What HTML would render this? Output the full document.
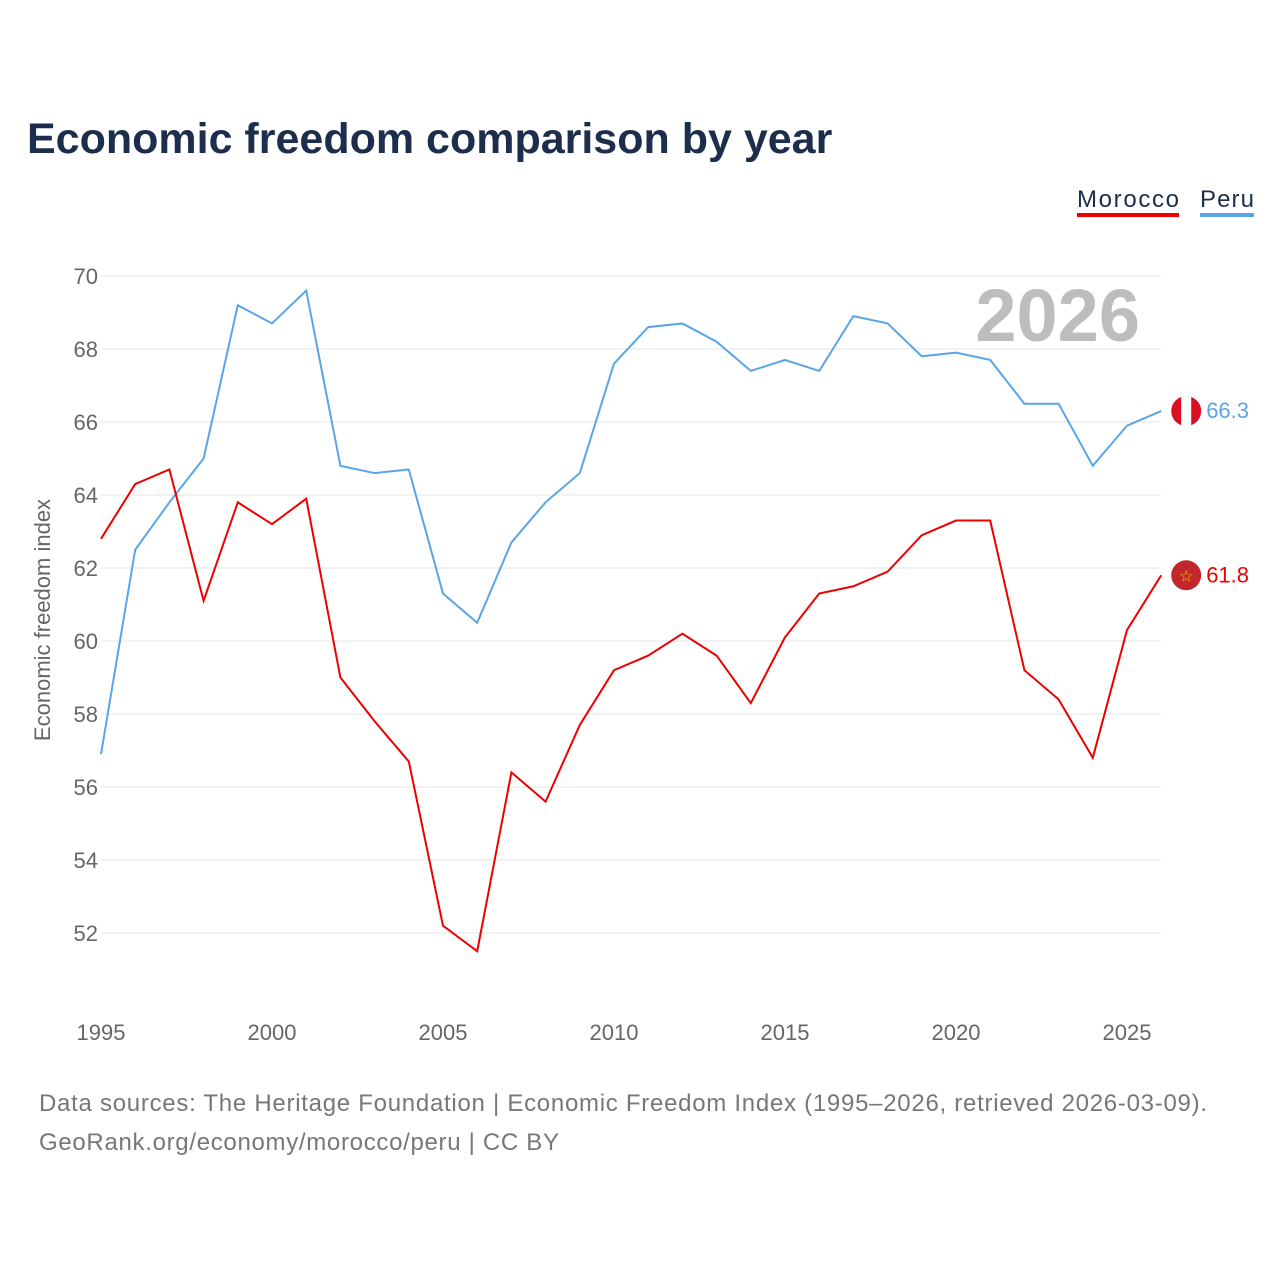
<!DOCTYPE html>
<html><head><meta charset="utf-8"><style>
body{margin:0;width:1280px;height:1280px;background:#fff;font-family:"Liberation Sans",sans-serif;overflow:hidden}
</style></head><body>
<svg width="1280" height="1280" xmlns="http://www.w3.org/2000/svg">
<text x="27" y="153" font-size="43" font-weight="bold" fill="#1c2e4c">Economic freedom comparison by year</text>
<g>
<text x="1077" y="207" font-size="24" fill="#1c2e4c" textLength="102">Morocco</text>
<rect x="1077" y="213" width="102" height="4" fill="#ee0000"/>
<text x="1200" y="207" font-size="24" fill="#1c2e4c" textLength="54">Peru</text>
<rect x="1200" y="213" width="54" height="4" fill="#5aa5e8"/>
</g>
<text x="1140" y="341" font-size="74" font-weight="bold" fill="#bdbdbd" text-anchor="end">2026</text>
<g id="grid"></g><g id="xt"></g>
<text transform="translate(50,620) rotate(-90)" font-size="22" fill="#666" text-anchor="middle">Economic freedom index</text>
<g id="lines"></g>
<text x="39" y="1111" font-size="24" fill="#777" textLength="1168">Data sources: The Heritage Foundation | Economic Freedom Index (1995–2026, retrieved 2026-03-09).</text>
<text x="39" y="1150" font-size="24" fill="#777" textLength="520">GeoRank.org/economy/morocco/peru | CC BY</text>
</svg>
<script>
const years=[1995,1996,1997,1998,1999,2000,2001,2002,2003,2004,2005,2006,2007,2008,2009,2010,2011,2012,2013,2014,2015,2016,2017,2018,2019,2020,2021,2022,2023,2024,2025,2026];
const peru=[56.9,62.5,63.8,65.0,69.2,68.7,69.6,64.8,64.6,64.7,61.3,60.5,62.7,63.8,64.6,67.6,68.6,68.7,68.2,67.4,67.7,67.4,68.9,68.7,67.8,67.9,67.7,66.5,66.5,64.8,65.9,66.3];
const morocco=[62.8,64.3,64.7,61.1,63.8,63.2,63.9,59.0,57.8,56.7,52.2,51.5,56.4,55.6,57.7,59.2,59.6,60.2,59.6,58.3,60.1,61.3,61.5,61.9,62.9,63.3,63.3,59.2,58.4,56.8,60.3,61.8];
const yTicks=[52,54,56,58,60,62,64,66,68,70];
const xTicks=[1995,2000,2005,2010,2015,2020,2025];
const NS="http://www.w3.org/2000/svg";
const xs=y=>101+(y-1995)*(1127-101)/30;
const ys=v=>276+(70-v)*(933-276)/18;
function mk(t,a,p){const e=document.createElementNS(NS,t);for(const k in a)e.setAttribute(k,a[k]);p.appendChild(e);return e;}
const grid=document.getElementById('grid');
yTicks.forEach(v=>{
 const l=mk('line',{x1:101,x2:1161,y1:ys(v),y2:ys(v),stroke:'#e6e6e6','stroke-width':1},grid);
 
 
 const t=mk('text',{x:98,y:ys(v)+8,'font-size':22,fill:'#666','text-anchor':'end'},grid);t.textContent=v;
 
 
});
const xt=document.getElementById('xt');
xTicks.forEach(y=>{
 const t=mk('text',{x:xs(y),y:1040,'font-size':22,fill:'#666','text-anchor':'middle'},xt);t.textContent=y;
 
 
});
const lines=document.getElementById('lines');
function series(vals,color,name,flag){
 const p=mk('polyline',{points:vals.map((v,i)=>xs(years[i])+','+ys(v)).join(' '),fill:'none',stroke:color,'stroke-width':2},lines);
 
 
 const last=vals[vals.length-1],lx=xs(years[years.length-1])+25,ly=ys(last);
 const c=mk('circle',{cx:lx,cy:ly,r:15,fill:flag},lines);
 
 
 if(name==='peru'){mk('rect',{x:lx-5,y:ly-15,width:10,height:30,fill:'#fff'},lines);}
 else{const s=mk('text',{x:lx,y:ly+6,'font-size':16,fill:'#f5c400','text-anchor':'middle'},lines);s.textContent='☆';}
 const t=mk('text',{x:lx+20,y:ly+7,'font-size':22,fill:color},lines);t.textContent=last;
 
 
}
series(peru,'#5aa5e8','peru','#d91023');
series(morocco,'#ee0000','morocco','#c1272d');
</script>
</body></html>
